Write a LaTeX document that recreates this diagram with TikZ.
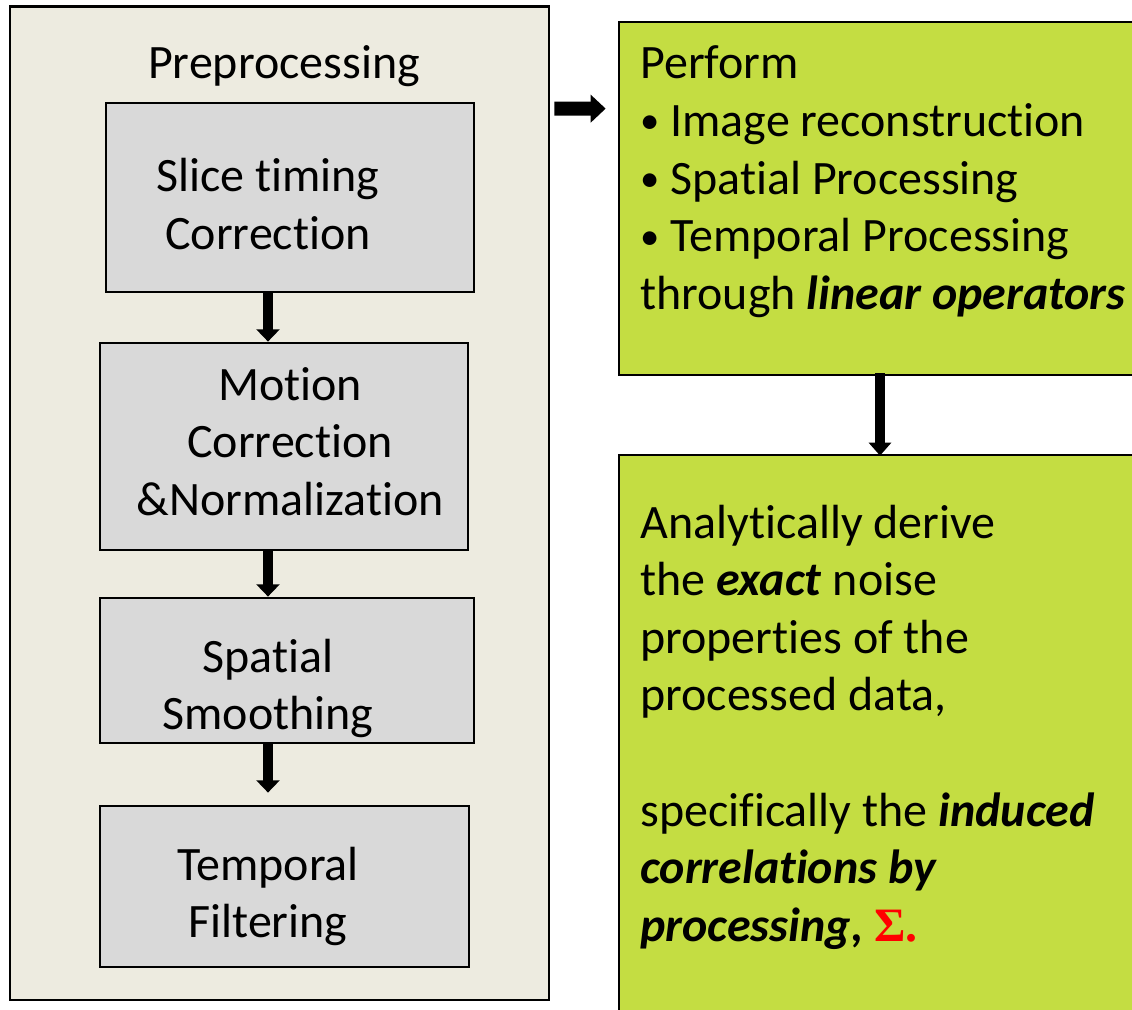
\documentclass[tikz,border=0pt]{standalone}
\usepackage{fontspec}
\setmainfont{Carlito}[RawFeature={-liga;-clig;-calt}]
\newfontfamily\sigmafont{Liberation Serif}
\definecolor{prebeige}{RGB}{237,235,224}
\definecolor{stagegray}{RGB}{217,217,217}
\definecolor{limegreen}{RGB}{196,221,66}
\definecolor{sigmared}{RGB}{255,0,0}
\usetikzlibrary{arrows.meta,calc}
\newcommand{\lbullet}{\raisebox{0.06em}{\fontsize{22}{22}\selectfont•}}

\begin{document}
\begin{tikzpicture}[x=0.02cm,y=-0.02cm,
        stage/.style={rectangle,draw=black,line width=1.6pt,fill=stagegray,inner sep=0pt},
        gbox/.style={rectangle,draw=black,line width=1.6pt,fill=limegreen,inner sep=0pt},
        txt/.style={font=\fontsize{27.3}{32.8}\selectfont,inner sep=0pt,
                    anchor=base,text width=8cm,align=flush center},
        blk/.style={line width=6.2pt,-{Triangle[width=13pt,length=7pt]}}]

        \useasboundingbox (0,0) rectangle (1132,1010);
        \fill[white] (0,0) rectangle (1132,1010);
        \clip (0,0) rectangle (1132,1010);

        \node[rectangle,draw=black,line width=1.6pt,fill=prebeige,inner sep=0pt,
              minimum width=10.78cm,minimum height=19.88cm] (pre) at (279.5,503) {};
        \node[txt] (pretitle) at (284,79) {Preprocessing};

        \node[stage,minimum width=7.36cm,minimum height=3.78cm] (b1) at (290,197.5) {};
        \node[stage,minimum width=7.36cm,minimum height=4.14cm] (b2) at (284,446.5) {};
        \node[stage,minimum width=7.48cm,minimum height=2.9cm]  (b3) at (287,670.5) {};
        \node[stage,minimum width=7.38cm,minimum height=3.22cm] (b4) at (284.5,886.5) {};

        \node[txt] (t1) at (268,192) {Slice timing\\Correction};
        \node[txt] (t2) at (290,400) {Motion\\Correction\\\&Normalization};
        \node[txt] (t3) at (268,672) {Spatial\\Smoothing};
        \node[txt] (t4) at (268,880) {Temporal\\Filtering};

        \draw[blk] (b1.south -| t1) -- (b2.north -| t1);
        \draw[blk] (b2.south -| t1) -- (b3.north -| t1);
        \draw[blk] (b3.south -| t1) -- ($(b4.north -| t1)+(0,-12)$);

        \node[gbox,minimum width=10.82cm,minimum height=7.06cm] (perf) at (889.5,198.5) {};
        \node[gbox,minimum width=10.82cm,minimum height=11.7cm] (der) at (889.5,747.5) {};

        \node[txt,anchor=base west,text width=10.5cm,align=flush left] (perftext) at (640,79)
              {Perform\\\lbullet{} Image reconstruction\\\lbullet{} Spatial Processing\\\lbullet{} Temporal Processing\\through \textbf{\textit{linear operators}}};
        \node[txt,anchor=base west,text width=10.5cm,align=flush left] (dertext) at (640,538)
              {Analytically derive\\the \textbf{\textit{exact}} noise\\properties of the\\processed data,\\\mbox{}\\specifically the \textbf{\textit{induced}}\\\textbf{\textit{correlations by}}\\\textbf{\textit{processing,}} {\sigmafont\bfseries\color{sigmared}Σ.}};

        \draw[blk,line width=8pt,-{Triangle[width=15.4pt,length=8.5pt]}]
              ($(pre.north east)+(4,104)$) -- ($(perf.north west)+(-12,88)$);
        \draw[blk,line width=5.7pt,-{Triangle[width=12.5pt,length=7.4pt]}]
              ($(perf.south)+(-9.5,-3)$) -- ($(der.north)+(-9.5,2)$);

    \end{tikzpicture}
\end{document}
